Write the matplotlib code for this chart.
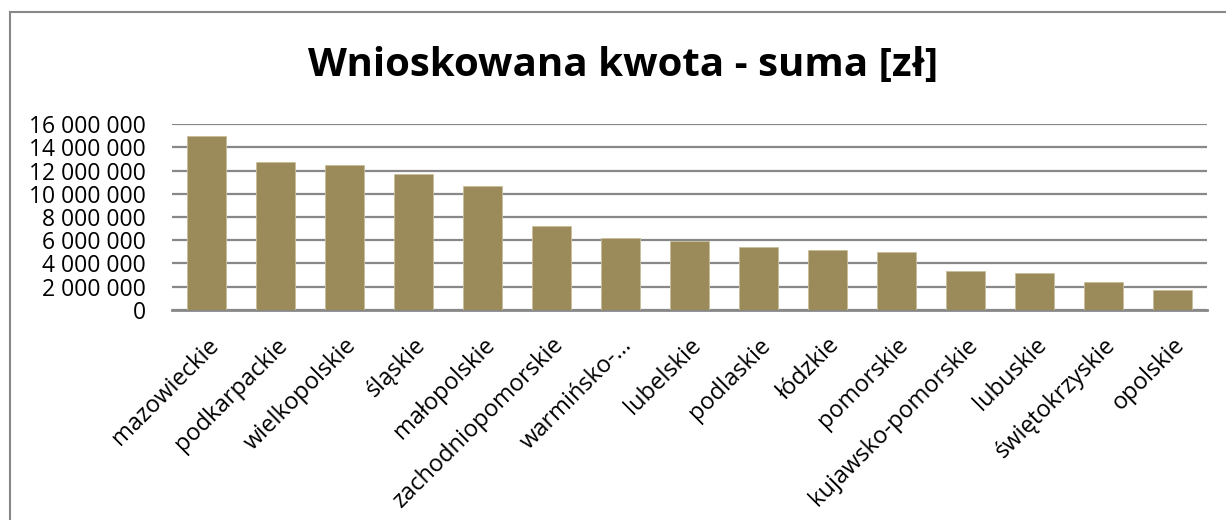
import matplotlib
matplotlib.use("Agg")
import matplotlib.pyplot as plt
from matplotlib.lines import Line2D
from matplotlib.ticker import FuncFormatter, MultipleLocator

# Wnioskowana kwota per województwo
regions = ["mazowieckie", "podkarpackie", "wielkopolskie", "śląskie",
           "małopolskie", "zachodniopomorskie", "warmińsko-…", "lubelskie",
           "podlaskie", "łódzkie", "pomorskie", "kujawsko-pomorskie",
           "lubuskie", "świętokrzyskie", "opolskie"]
amounts = [15000000, 12730000, 12490000, 11690000, 10650000, 7200000,
           6170000, 5930000, 5410000, 5130000, 4960000, 3310000,
           3140000, 2370000, 1680000]

bar_color = "#9C8B5A"
grid_color = "#888888"

plt.rcParams["font.family"] = ["Open Sans", "DejaVu Sans"]

fig = plt.figure(figsize=(12.26, 5.2), dpi=100)
ax = fig.add_axes([172 / 1226, 1 - 309.7 / 520, (1207 - 172) / 1226, (309.7 - 124.3) / 520])

x = list(range(len(regions)))
ax.bar(x, amounts, width=0.565, color=bar_color, edgecolor="#C9BE9A",
       linewidth=0.6, zorder=3)

ax.set_xlim(-0.5, len(regions) - 0.5)
ax.set_ylim(0, 16000000)
ax.yaxis.set_major_locator(MultipleLocator(2000000))
ax.yaxis.set_major_formatter(FuncFormatter(lambda v, p: f"{v:,.0f}".replace(",", " ")))
ax.grid(axis="y", color=grid_color, linewidth=1.6, zorder=0)

for s in ["top", "right", "left"]:
    ax.spines[s].set_visible(False)
ax.spines["bottom"].set_color(grid_color)
ax.spines["bottom"].set_linewidth(2)

ax.set_xticks(x)
ax.set_xticklabels(regions, rotation=45, ha="right", rotation_mode="anchor")
ax.tick_params(axis="x", length=0, pad=17, labelsize=17)
ax.tick_params(axis="y", length=0, pad=19, labelsize=16.5)

fig.text(0.508, 0.875, "Wnioskowana kwota - suma [zł]", ha="center", va="center",
         fontsize=29, fontweight="bold")

# chart frame (left and top edges visible)
bx, by = 10 / 1226, 1 - 12 / 520
fig.add_artist(Line2D([bx, bx], [-0.1, by], color=grid_color, linewidth=1.5))
fig.add_artist(Line2D([bx, 1.1], [by, by], color=grid_color, linewidth=1.5))

fig.savefig("out.png", dpi=100)
